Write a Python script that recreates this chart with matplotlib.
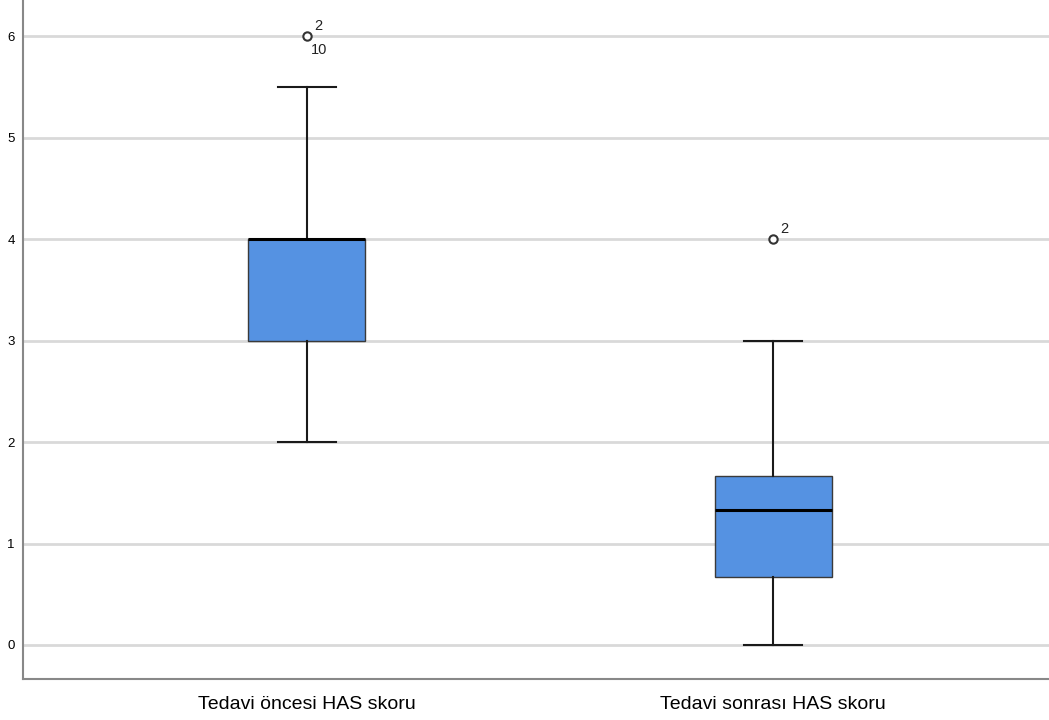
import matplotlib
matplotlib.use("Agg")
import matplotlib.pyplot as plt

categories = ["Tedavi öncesi HAS skoru", "Tedavi sonrası HAS skoru"]
q1 = [3.0, 0.667]
med = [4.0, 1.333]
q3 = [4.0, 1.667]
whislo = [2.0, 0.0]
whishi = [5.5, 3.0]
outliers = [[6.0], [4.0]]
outlier_labels = [["2", "10"], ["2"]]
yticks = [0, 1, 2, 3, 4, 5, 6]

plt.rcParams['font.family'] = ['Liberation Sans', 'DejaVu Sans']
fig = plt.figure(figsize=(10.49, 7.2), dpi=100)
ax = fig.add_axes([23/1049, 1 - 679/720, 1 - 23/1049, 679/720])

stats = []
for i in range(len(categories)):
    stats.append(dict(med=med[i], q1=q1[i], q3=q3[i], whislo=whislo[i],
                      whishi=whishi[i], fliers=outliers[i], label=categories[i]))

positions = [1, 2]
bp = ax.bxp(stats, positions=positions, widths=0.251, patch_artist=True,
            showfliers=True,
            boxprops=dict(facecolor="#5592e2", edgecolor="#3a3a3a", linewidth=1.0),
            medianprops=dict(color="black", linewidth=2.2),
            whiskerprops=dict(color="#1a1a1a", linewidth=1.5),
            capprops=dict(color="#1a1a1a", linewidth=1.5),
            flierprops=dict(marker="o", markerfacecolor="white", markeredgecolor="#333333",
                            markersize=6, markeredgewidth=1.5))
for cap in bp['caps']:
    x0, x1 = cap.get_xdata()
    c = (x0 + x1) / 2
    cap.set_xdata([c - 0.062, c + 0.062])

for i, pos in enumerate(positions):
    for v in outliers[i]:
        labs = outlier_labels[i]
        ax.annotate(labs[0], (pos, v), xytext=(5, 2), textcoords="offset points",
                    fontsize=10.5, ha="left", va="bottom", color="#222222")
        if len(labs) > 1:
            ax.annotate(labs[1], (pos, v), xytext=(3, -5), textcoords="offset points",
                        fontsize=10.5, ha="left", va="top", color="#222222")

ax.set_xlim(0.391, 2.592)
ax.set_ylim(-0.335, 6.355)
ax.set_yticks(yticks)
ax.set_yticklabels([str(t) for t in yticks], fontsize=9.5)
ax.yaxis.grid(True, color="#d9d9d9", linewidth=2)
ax.set_axisbelow(True)
ax.tick_params(axis="y", length=0, pad=6)
ax.tick_params(axis="x", length=0, pad=12, labelsize=14)
ax.set_xticks(positions)
ax.set_xticklabels(categories)
for s in ["top", "right"]:
    ax.spines[s].set_visible(False)
for s in ["left", "bottom"]:
    ax.spines[s].set_color("#888888")
    ax.spines[s].set_linewidth(1.5)

fig.savefig("out.png", dpi=100)
